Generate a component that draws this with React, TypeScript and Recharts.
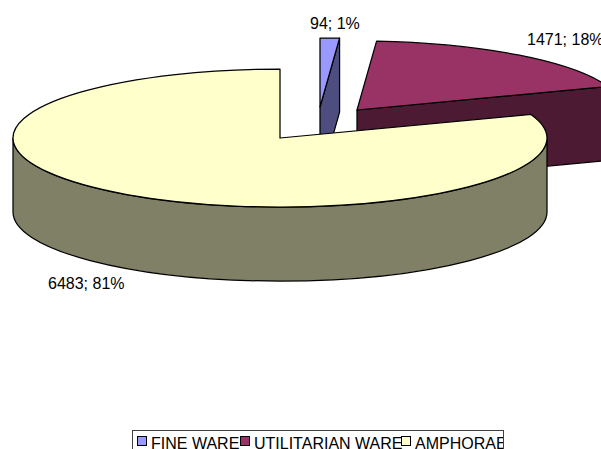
import { Legend, Pie, PieChart } from 'recharts'

// ── Data ─────────────────────────────────────────────────────────────────────

const CATEGORIES = ['FINE WARE', 'UTILITARIAN WARE', 'AMPHORAE']
const VALUES = [94, 1471, 6483]

// ── Look ─────────────────────────────────────────────────────────────────────

const TOP_COLORS = ['#9999ff', '#993366', '#ffffcc']
const WALL_COLORS = ['#4d4d80', '#4d1a33', '#808066']

// Exploded slices: shift of the apex from the pie centre
const OFFSET_X = [40, 77, 0]
const OFFSET_Y = [-31, -28, 0]

const LABEL_X = [310, 527, 48]
const LABEL_Y = [29, 45, 289]
const LEGEND_X = [4, 107, 268]

const WIDTH = 601
const HEIGHT = 449
const CX = 280
const CY = 138
const RX = 267
const RY = 69
const DEPTH = 74
const FONT = '"Liberation Sans", Arial, sans-serif'

const rows = CATEGORIES.map((name, i) => ({
  name,
  value: VALUES[i],
  fill: TOP_COLORS[i],
  wall: WALL_COLORS[i],
  index: i,
}))

// Clockwise from north, in degrees, on the tilted ellipse
const rimPoint = (x0: number, y0: number, deg: number) => {
  const a = (deg * Math.PI) / 180
  return [x0 + RX * Math.sin(a), y0 - RY * Math.cos(a)]
}

function Slice3D(props: any) {
  const { cx, cy, startAngle, endAngle, fill, wall, index } = props
  const x0 = cx + OFFSET_X[index]
  const y0 = cy + OFFSET_Y[index]
  const from = 90 - startAngle
  const to = 90 - endAngle
  const [sx, sy] = rimPoint(x0, y0, from)
  const [ex, ey] = rimPoint(x0, y0, to)
  const large = to - from > 180 ? 1 : 0

  const faces: string[] = []
  // cut face at the start of the slice, only seen on the left half
  if (from > 180 && from < 360) {
    faces.push(`M${x0},${y0} L${sx},${sy} L${sx},${sy + DEPTH} L${x0},${y0 + DEPTH} Z`)
  }
  // cut face at the end of the slice, only seen on the right half
  if (to > 0 && to < 180) {
    faces.push(`M${x0},${y0} L${ex},${ey} L${ex},${ey + DEPTH} L${x0},${y0 + DEPTH} Z`)
  }
  // outer wall along the front half of the rim
  const wallFrom = Math.max(from, 90)
  const wallTo = Math.min(to, 270)
  if (wallTo > wallFrom) {
    const [ax, ay] = rimPoint(x0, y0, wallFrom)
    const [bx, by] = rimPoint(x0, y0, wallTo)
    faces.push(
      `M${ax},${ay} A${RX},${RY} 0 0 1 ${bx},${by} L${bx},${by + DEPTH} A${RX},${RY} 0 0 0 ${ax},${ay + DEPTH} Z`,
    )
  }

  return (
    <g stroke="#000" strokeWidth={1.25} strokeLinejoin="round">
      {faces.map((d, i) => (
        <path key={i} d={d} fill={wall} />
      ))}
      <path d={`M${x0},${y0} L${sx},${sy} A${RX},${RY} 0 ${large} 1 ${ex},${ey} Z`} fill={fill} />
    </g>
  )
}

function SliceLabel(props: any) {
  const { index, value, percent } = props
  return (
    <text x={LABEL_X[index]} y={LABEL_Y[index]} fontFamily={FONT} fontSize={16} fill="#000">
      {`${value}; ${Math.round(percent * 100)}%`}
    </text>
  )
}

function LegendBox({ payload }: any) {
  return (
    <div
      style={{
        position: 'relative',
        width: 372,
        height: 30,
        border: '1px solid #404040',
        boxSizing: 'border-box',
        background: '#fff',
        overflow: 'hidden',
        fontFamily: FONT,
        fontSize: 16,
        color: '#000',
      }}
    >
      {(payload ?? []).map((item: any, i: number) => (
        <div key={item.value}>
          <span
            style={{
              position: 'absolute',
              left: LEGEND_X[i],
              top: 5,
              width: 10,
              height: 10,
              boxSizing: 'border-box',
              border: '1px solid #000',
              background: item.color,
            }}
          />
          <span
            style={{
              position: 'absolute',
              left: LEGEND_X[i] + 14,
              top: 4,
              lineHeight: '18px',
              whiteSpace: 'nowrap',
            }}
          >
            {item.value}
          </span>
        </div>
      ))}
    </div>
  )
}

export default function App() {
  return (
    <div style={{ position: 'absolute', left: 0, top: 0, width: WIDTH, height: HEIGHT, overflow: 'hidden' }}>
      <PieChart width={WIDTH} height={HEIGHT} margin={{ top: 0, right: 0, bottom: 0, left: 0 }}>
        <Pie
          data={rows}
          dataKey="value"
          nameKey="name"
          cx={CX}
          cy={CY}
          outerRadius={RX}
          startAngle={90}
          endAngle={-270}
          stroke="none"
          shape={Slice3D}
          label={SliceLabel}
          labelLine={false}
          isAnimationActive={false}
        />
        <Legend
          content={LegendBox}
          itemSorter={null}
          wrapperStyle={{ position: 'absolute', left: 132, top: 430, width: 372, bottom: 'auto' }}
        />
      </PieChart>
    </div>
  )
}
